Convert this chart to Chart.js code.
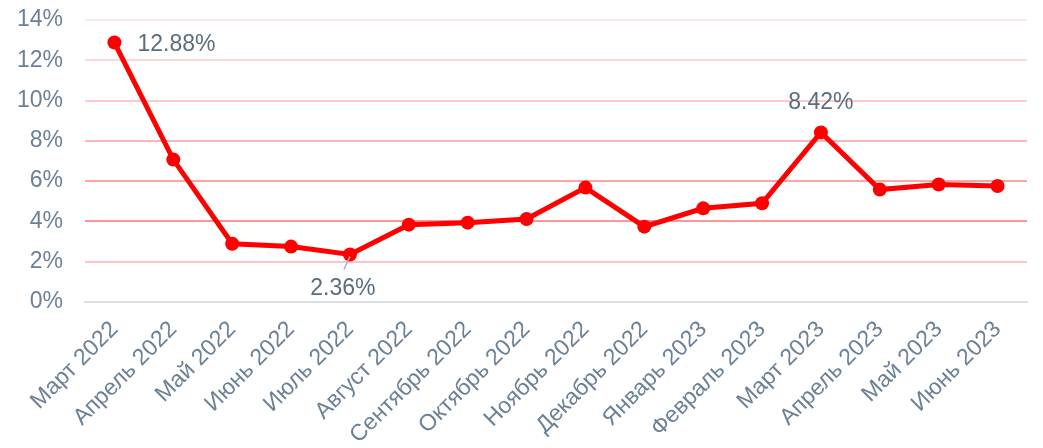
<!DOCTYPE html>
<html>
<head>
<meta charset="utf-8">
<script src="https://cdn.jsdelivr.net/npm/chart.js@4"></script>
<style>
  html, body { margin: 0; padding: 0; background: #fff; }
  #wrap { width: 1043px; height: 448px; overflow: hidden; }
</style>
</head>
<body>
<div id="wrap"><canvas id="lineChart" width="1043" height="448"></canvas></div>
<script>
// chart data
const months = ['Март 2022', 'Апрель 2022', 'Май 2022', 'Июнь 2022', 'Июль 2022', 'Август 2022',
    'Сентябрь 2022', 'Октябрь 2022', 'Ноябрь 2022', 'Декабрь 2022', 'Январь 2023', 'Февраль 2023',
    'Март 2023', 'Апрель 2023', 'Май 2023', 'Июнь 2023'];
const rates = [12.88, 7.07, 2.89, 2.75, 2.36, 3.84, 3.94, 4.12, 5.68, 3.74, 4.65, 4.90, 8.42, 5.58, 5.83, 5.76];
const yTicks = [0, 2, 4, 6, 8, 10, 12, 14];
// which points get a value label, and where
const labelled = [
    { index: 0, place: 'right' },
    { index: 4, place: 'below' },
    { index: 12, place: 'above' }
];

const gridColors = ['#d9dde3', '#ffc4c4', '#ff9494', '#ffa3a3', '#ffb5b5', '#ffcaca', '#ffd6d6', '#ffe6e6'];
const fontFamily = '"Liberation Sans", Arial, sans-serif';

// draws the few value labels next to their points
const valueLabels = {
    id: 'valueLabels',
    afterDatasetsDraw(chart) {
        const ctx = chart.ctx;
        const meta = chart.getDatasetMeta(0);
        ctx.save();
        ctx.font = '23px ' + fontFamily;
        ctx.fillStyle = '#5b6c7d';
        labelled.forEach(function(item) {
            const pt = meta.data[item.index];
            const text = rates[item.index].toFixed(2) + '%';
            if (item.place === 'right') {
                ctx.textAlign = 'left';
                ctx.textBaseline = 'middle';
                ctx.fillText(text, pt.x + 23, pt.y + 2);
            } else if (item.place === 'above') {
                ctx.textAlign = 'center';
                ctx.textBaseline = 'bottom';
                ctx.fillText(text, pt.x, pt.y - 18);
            } else {
                // leader line
                ctx.strokeStyle = '#a7b1bb';
                ctx.lineWidth = 1.5;
                ctx.beginPath();
                ctx.moveTo(pt.x, pt.y + 2);
                ctx.lineTo(pt.x - 6, pt.y + 15);
                ctx.stroke();
                ctx.textAlign = 'center';
                ctx.textBaseline = 'top';
                ctx.fillText(text, pt.x - 7, pt.y + 23);
            }
        });
        ctx.restore();
    }
};

new Chart(document.getElementById('lineChart').getContext('2d'), {
    type: 'line',
    data: {
        labels: months,
        datasets: [{
            data: rates,
            borderColor: '#ff0000',
            backgroundColor: '#ff0000',
            borderWidth: 5,
            pointRadius: 7,
            pointHoverRadius: 7,
            pointBackgroundColor: '#ff0000',
            pointBorderWidth: 0,
            tension: 0
        }]
    },
    options: {
        responsive: false,
        animation: false,
        layout: { padding: { top: 0, right: 16, left: 0, bottom: 0 } },
        plugins: {
            legend: { display: false },
            tooltip: { enabled: false }
        },
        scales: {
            x: {
                offset: true,
                grid: { display: false, drawTicks: false },
                border: { display: true, color: '#d9dde3', width: 2 },
                ticks: {
                    color: '#6c8096',
                    font: { family: fontFamily, size: 23 },
                    maxRotation: 45,
                    minRotation: 45,
                    autoSkip: false,
                    padding: 14
                },
                // labels run off the bottom edge like in the original
                afterFit: function(scale) {
                    scale.height = 146;
                }
            },
            y: {
                min: 0,
                max: 14,
                afterBuildTicks: function(scale) {
                    scale.ticks = yTicks.map(function(v) { return { value: v }; });
                },
                afterFit: function(scale) {
                    scale.width = 85;
                    scale.paddingTop = 20;
                    scale.paddingBottom = 0;
                },
                grid: {
                    color: function(c) { return gridColors[c.index]; },
                    lineWidth: 2,
                    drawTicks: false
                },
                border: { display: false },
                ticks: {
                    color: '#6c8096',
                    font: { family: fontFamily, size: 23 },
                    padding: 22,
                    callback: function(v) { return v + '%'; }
                }
            }
        }
    },
    plugins: [valueLabels]
});
</script>
</body>
</html>
